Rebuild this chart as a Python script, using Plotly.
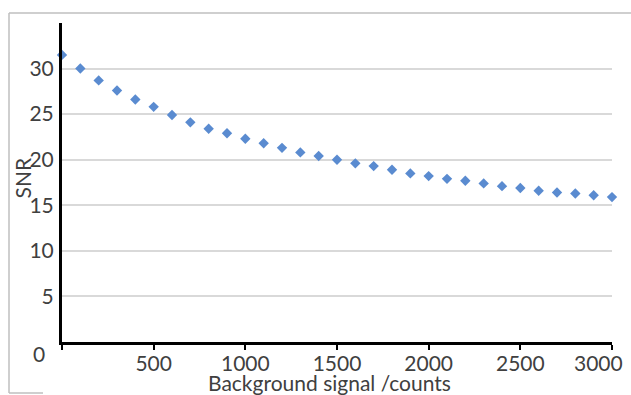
import plotly.graph_objects as go

background = [0, 100, 200, 300, 400, 500, 600, 700, 800, 900, 1000,
              1100, 1200, 1300, 1400, 1500, 1600, 1700, 1800, 1900, 2000,
              2100, 2200, 2300, 2400, 2500, 2600, 2700, 2800, 2900, 3000]
snr = [31.5, 30.0, 28.7, 27.6, 26.6, 25.8, 24.9, 24.1, 23.4, 22.9, 22.3,
       21.8, 21.3, 20.8, 20.4, 20.0, 19.6, 19.3, 18.9, 18.5, 18.2,
       17.9, 17.7, 17.4, 17.1, 16.9, 16.6, 16.4, 16.3, 16.1, 15.9]

x_ticks = [0, 500, 1000, 1500, 2000, 2500, 3000]
x_ticktext = ["", "500", "1000", "1500", "2000", "2500", ""]
y_ticks = [5, 10, 15, 20, 25, 30, 35]
y_ticktext = ["5", "10", "15", "20", "25", "30", ""]

FONT = "Lato, Open Sans, sans-serif"
TXT = "#404040"

fig = go.Figure()
fig.add_trace(go.Scatter(
    x=background, y=snr, mode="markers",
    marker=dict(symbol="diamond", size=8, color="#5a8bd0"),
    cliponaxis=False, showlegend=False,
))

fig.update_layout(
    width=631, height=395,
    margin=dict(l=62, r=19, t=23, b=53, autoexpand=False),
    paper_bgcolor="white", plot_bgcolor="white",
    font=dict(family=FONT, size=21, color=TXT),
    xaxis=dict(
        range=[0, 3000], tickvals=x_ticks, ticktext=x_ticktext,
        showgrid=False, zeroline=False,
        showline=True, linecolor="black", linewidth=3,
        ticks="outside", ticklen=5, tickwidth=2, tickcolor="black",
        tickfont=dict(family=FONT, size=21, color=TXT),
        ticklabeloverflow="allow", ticklabelstandoff=-4,
        automargin=False,
    ),
    yaxis=dict(
        range=[0, 35], tickvals=y_ticks, ticktext=y_ticktext,
        showgrid=True, gridcolor="#d9d9d9", gridwidth=1.5,
        zeroline=False,
        showline=True, linecolor="black", linewidth=3,
        ticks="", ticklabelstandoff=1,
        tickfont=dict(family=FONT, size=21, color=TXT),
        ticklabeloverflow="allow",
        automargin=False,
    ),
    annotations=[
        dict(text="0", xref="paper", yref="paper", x=0, y=0,
             xanchor="right", yanchor="middle", xshift=-15, yshift=-11,
             showarrow=False, font=dict(family=FONT, size=21, color=TXT)),
        dict(text=str(x_ticks[-1]), xref="x", yref="paper", x=x_ticks[-1], y=0,
             xanchor="right", yanchor="middle", xshift=13, yshift=-20,
             showarrow=False, font=dict(family=FONT, size=21, color=TXT)),
        dict(text="Background signal /counts", xref="paper", yref="paper",
             x=0.487, y=0, xanchor="center", yanchor="middle", yshift=-40,
             showarrow=False, font=dict(family=FONT, size=21, color=TXT)),
        dict(text="SNR", xref="paper", yref="paper", x=0, y=0.5,
             xanchor="center", yanchor="middle", xshift=-40, yshift=4,
             textangle=-90, showarrow=False,
             font=dict(family=FONT, size=21, color=TXT)),
    ],
    shapes=[
        dict(type="line", xref="paper", yref="paper",
             x0=-53 / 550, x1=619 / 550, y0=(342 - 13) / 319, y1=(342 - 13) / 319,
             line=dict(color="#bfbfbf", width=1.5)),
        dict(type="line", xref="paper", yref="paper",
             x0=-53 / 550, x1=-53 / 550, y0=(342 - 13) / 319, y1=(342 - 393) / 319,
             line=dict(color="#bfbfbf", width=1.5)),
        dict(type="line", xref="paper", yref="paper",
             x0=-53 / 550, x1=-19 / 550, y0=(342 - 393) / 319, y1=(342 - 393) / 319,
             line=dict(color="#bfbfbf", width=1.5)),
    ],
)

fig.write_html("out.html", config={"displayModeBar": False},
               post_script="document.body.style.margin='0px';")
